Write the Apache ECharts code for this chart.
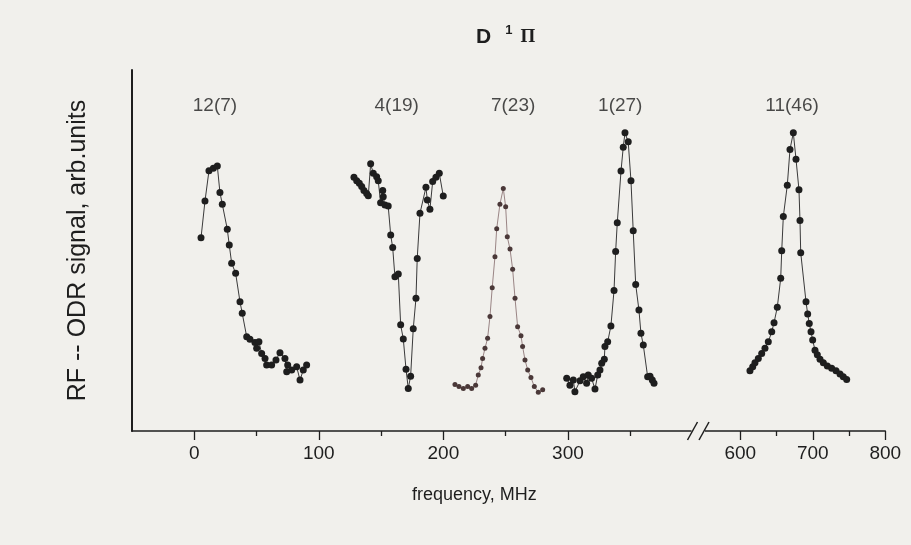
<!DOCTYPE html>
<html><head><meta charset="utf-8">
<script src="https://cdn.jsdelivr.net/npm/echarts@6/dist/echarts.min.js"></script>
<style>html,body{margin:0;padding:0;background:#f1f0ec}#c{width:911px;height:545px}</style>
</head><body><div id="c"></div>
<script>
// frequency (MHz), signal (arb. units)
const trace12_7 = [[5.4,53.5],[8.6,63.7],[11.8,72.1],[15.3,72.8],[18.5,73.4],[20.6,66.1],[22.5,62.8],[26.5,55.9],[28.1,51.5],[30.0,46.5],[33.2,43.7],[36.7,35.8],[38.5,32.6],[42.1,26.1],[44.7,25.4],[48.7,24.5],[50.1,22.9],[51.9,24.7],[54.1,21.5],[56.8,20.1],[58.1,18.3],[62.1,18.3],[65.6,19.7],[68.8,21.7],[72.8,20.1],[74.2,16.4],[75.0,18.3],[78.2,16.9],[82.2,17.8],[84.9,14.1],[87.5,16.9],[90.2,18.3]];
const trace4_19 = [[128.2,70.3],[130.4,69.3],[132.5,68.6],[134.4,67.7],[136.2,66.6],[138.4,65.8],[139.7,65.2],[141.6,74.0],[143.7,71.4],[146.4,70.4],[147.7,69.3],[149.6,63.2],[151.3,66.6],[151.7,64.9],[153.1,62.6],[155.7,62.3],[157.7,54.3],[159.3,50.8],[161.1,42.7],[163.8,43.5],[165.7,29.4],[167.8,25.5],[170.0,17.1],[171.8,11.8],[173.7,15.2],[175.8,28.3],[178.0,36.8],[179.0,47.8],[181.2,60.3],[186.0,67.5],[187.1,64.0],[189.2,61.4],[191.4,69.1],[194.0,70.3],[196.7,71.4],[199.9,65.1]];
const trace7_23 = [[209.3,12.9],[212.5,12.3],[216.0,11.8],[219.5,12.3],[222.7,11.8],[225.9,12.7],[228.0,15.5],[230.2,17.5],[231.5,20.1],[233.4,22.9],[235.5,25.7],[237.4,31.7],[239.2,39.7],[241.4,48.3],[242.8,56.0],[245.4,62.8],[248.1,67.2],[250.0,62.1],[251.3,53.8],[253.5,50.4],[255.6,44.8],[257.5,36.8],[259.6,28.9],[262.3,26.4],[263.6,23.4],[265.5,19.7],[267.7,16.9],[270.3,14.8],[273.0,12.3],[276.2,10.7],[279.7,11.4]];
const trace1_27 = [[299.0,14.6],[301.6,12.7],[304.3,14.1],[305.6,10.9],[309.7,13.9],[312.3,15.0],[315.0,13.2],[316.3,15.5],[319.0,14.6],[321.7,11.6],[323.9,15.5],[325.7,16.9],[327.1,18.8],[329.2,19.9],[329.7,23.4],[331.9,24.7],[334.5,29.1],[337.0,38.9],[338.3,49.7],[339.6,57.7],[342.6,72.0],[344.4,78.6],[345.8,82.6],[348.4,80.1],[350.6,69.3],[352.4,55.5],[354.4,40.6],[357.0,33.5],[358.6,27.1],[360.5,23.8],[364.0,15.0],[365.9,15.2],[367.7,14.1],[369.1,13.2]];
const trace11_46 = [[613.4,16.7],[617.2,17.8],[620.3,18.9],[624.9,20.1],[629.6,21.5],[634.1,22.9],[638.7,24.7],[643.4,27.5],[646.6,30.0],[651.1,34.3],[655.8,42.3],[657.2,49.9],[659.4,59.4],[664.9,68.1],[668.6,78.0],[673.2,82.6],[676.9,75.3],[681.0,66.8],[682.4,58.3],[683.4,49.4],[690.7,35.8],[693.0,32.4],[695.2,29.8],[697.6,27.5],[699.9,25.2],[703.1,22.4],[706.3,21.1],[710.0,19.9],[714.6,18.9],[720.1,18.0],[726.1,17.4],[732.1,16.7],[737.6,15.8],[742.1,15.0],[746.8,14.3]];

const peakNames = ['12(7)','4(19)','7(23)','1(27)','11(46)'];
const peakLabelX = [16.6,162.5,256,342,671.4];
const peakLabelY = 90;

const leftTickLabels = [0,100,200,300];
const leftMinorTicks = [50,150,250,350];
const rightTickLabels = [600,700,800];
const rightMinorTicks = [650,750];

const ink = '#1e1e1e';
const font = 'Liberation Sans, Arial, sans-serif';

const chart = echarts.init(document.getElementById('c'));

function dotSeries(data, xi, opts) {
  opts = opts || {};
  return {
    type: 'line', xAxisIndex: xi, yAxisIndex: xi, data: data,
    symbol: 'circle', symbolSize: opts.size || 7, showSymbol: true,
    itemStyle: {color: opts.color || ink},
    lineStyle: {color: opts.lineColor || '#3a3a3a', width: 1},
    animation: false, silent: true, z: 3
  };
}
function labelSeries(idx, xi) {
  return {
    type: 'scatter', xAxisIndex: xi, yAxisIndex: xi, symbolSize: 0, silent: true, animation: false,
    data: idx.map(i => ({name: peakNames[i], value: [peakLabelX[i], peakLabelY]})),
    label: {show: true, position: 'inside', formatter: p => p.name, color: ink, fontSize: 19, fontFamily: font}
  };
}

const option = {
  backgroundColor: '#f1f0ec',
  animation: false,
  title: [{
    text: '{d|D}{s|1}{p|Π}', left: 471, top: 19,
    textStyle: {rich: {
      d: {fontSize: 21, fontWeight: 'bold', fontFamily: font, color: ink},
      s: {fontSize: 13, fontWeight: 'bold', fontFamily: font, color: ink, padding: [0, 8, 14, 14]},
      p: {fontSize: 19, fontFamily: 'Liberation Serif, Times New Roman, serif', color: ink}
    }}
  }, {
    text: 'frequency, MHz', left: 407, top: 481,
    textStyle: {fontSize: 18, fontWeight: 'normal', fontFamily: font, color: ink}
  }],
  grid: [
    {left: 132, top: 70, width: 560.5, height: 361},
    {left: 704, top: 70, width: 181.25, height: 361}
  ],
  xAxis: [
    {gridIndex: 0, type: 'value', min: -50, max: 400,
     axisLine: {show: true, onZero: false, lineStyle: {color: ink, width: 1.5}},
     axisTick: {show: true, customValues: leftMinorTicks, length: 5, lineStyle: {color: ink, width: 1.3}},
     axisLabel: {show: true, customValues: leftTickLabels, color: ink, fontSize: 19, fontFamily: font, margin: 13},
     splitLine: {show: false}},
    {gridIndex: 1, type: 'value', min: 550, max: 800,
     axisLine: {show: true, onZero: false, lineStyle: {color: ink, width: 1.5}},
     axisTick: {show: true, customValues: rightMinorTicks, length: 5, lineStyle: {color: ink, width: 1.3}},
     axisLabel: {show: true, customValues: rightTickLabels, color: ink, fontSize: 19, fontFamily: font, margin: 13},
     splitLine: {show: false}},
    {gridIndex: 0, type: 'value', min: -50, max: 400, position: 'bottom',
     axisLine: {show: false, onZero: false},
     axisTick: {show: true, customValues: leftTickLabels, length: 9, lineStyle: {color: ink, width: 1.3}},
     axisLabel: {show: false}, splitLine: {show: false}},
    {gridIndex: 1, type: 'value', min: 550, max: 800, position: 'bottom',
     axisLine: {show: false, onZero: false},
     axisTick: {show: true, customValues: rightTickLabels, length: 9, lineStyle: {color: ink, width: 1.3}},
     axisLabel: {show: false}, splitLine: {show: false}}
  ],
  yAxis: [
    {gridIndex: 0, type: 'value', min: 0, max: 100, position: 'left',
     name: 'RF -- ODR signal, arb.units', nameLocation: 'middle', nameGap: 41, nameRotate: 90,
     nameTextStyle: {fontSize: 25, fontFamily: font, color: ink},
     axisLine: {show: true, onZero: false, lineStyle: {color: ink, width: 2}},
     axisTick: {show: false}, axisLabel: {show: false}, splitLine: {show: false}},
    {gridIndex: 1, type: 'value', min: 0, max: 100, show: false}
  ],
  series: [
    dotSeries(trace12_7, 0),
    dotSeries(trace4_19, 0),
    dotSeries(trace7_23, 0, {size: 5, color: '#4a3838', lineColor: '#9a8585'}),
    dotSeries(trace1_27, 0),
    dotSeries(trace11_46, 1),
    labelSeries([0,1,2,3], 0),
    labelSeries([4], 1)
  ]
};
chart.setOption(option);

// axis break marks at the join of the two axes
const pL = chart.convertToPixel({xAxisIndex: 0, yAxisIndex: 0}, [400, 0]);
const pR = chart.convertToPixel({xAxisIndex: 1, yAxisIndex: 1}, [550, 0]);
function slash(x, y) {
  return {type: 'line', shape: {x1: x - 5, y1: y + 9, x2: x + 5, y2: y - 9},
          style: {stroke: ink, lineWidth: 1.5}, z: 10};
}
chart.setOption({graphic: [
  {type: 'rect', shape: {x: pL[0] - 1, y: pL[1] - 3, width: pR[0] - pL[0] + 2, height: 6}, style: {fill: '#f1f0ec'}, z: 9},
  slash(pL[0], pL[1]), slash(pR[0], pR[1])
]});
</script></body></html>
